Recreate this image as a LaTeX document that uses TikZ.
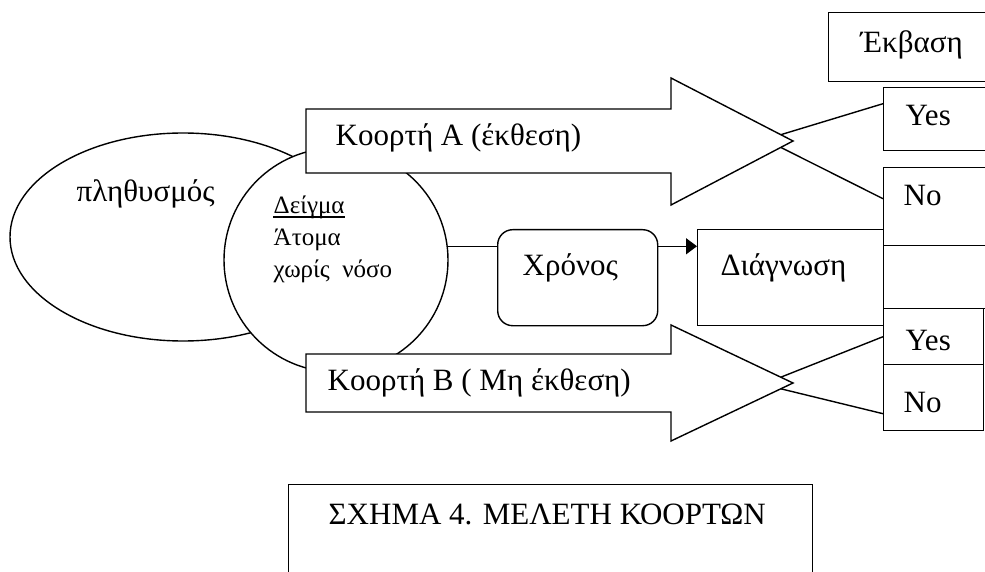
\documentclass[tikz,border=0pt]{standalone}
\usepackage{fontspec}
\setmainfont{Liberation Serif}
\usetikzlibrary{shapes.geometric,arrows.meta,calc}
\begin{document}
\begin{tikzpicture}[x=1pt,y=-1pt,
  line width=1.4pt,
  txt/.style={font=\fontsize{31}{37}\selectfont, inner sep=0pt, anchor=base west},
  smalltxt/.style={font=\fontsize{25}{30}\selectfont, inner sep=0pt, anchor=base west},
  boxnode/.style={draw, fill=white, inner sep=0pt, anchor=north west},
  blockarrow/.style={draw, fill=white, line join=miter},
  flowarrow/.style={-{Triangle[length=11pt,width=16pt]}}
]
\useasboundingbox (0,0) rectangle (985,572);
\clip (0,0) rectangle (985,572);

% population and sample
\node[draw, fill=white, ellipse, minimum width=346pt, minimum height=208pt, inner sep=0pt] (pop) at (183,237) {};
\node[txt] (poptxt) at (76,202) {πληθυσμός};
\node[draw, fill=white, circle, minimum size=224pt, inner sep=0pt] (smp) at (336,260) {};

% cohort A block arrow
\coordinate (tipA) at (793,141);
\coordinate (hAtop) at (671,78);
\coordinate (hAbot) at (671,205);
\draw[blockarrow] (306,109) -- (671,109) -- (hAtop) -- (tipA) -- (hAbot) -- (671,173) -- (306,173) -- cycle;
\node[txt] (cohA) at (335,146) {Κοορτή Α (έκθεση)};

% cohort B block arrow
\coordinate (tipB) at (793,383);
\coordinate (hBtop) at (671,325);
\coordinate (hBbot) at (671,441);
\draw[blockarrow] (306,354) -- (671,354) -- (hBtop) -- (tipB) -- (hBbot) -- (671,412) -- (306,412) -- cycle;
\node[txt] (cohB) at (327,390) {Κοορτή Β ( Μη έκθεση)};

% sample text inside the circle
\node[smalltxt] (s1) at (273,214) {Δείγμα};
\draw[line width=1.2pt] ([yshift=-3pt]s1.base west) -- ([yshift=-3pt]s1.base east);
\node[smalltxt] (s2) at (273,245) {Άτομα};
\node[smalltxt] (s3) at (273,277) {χωρίς~~νόσο};

% time and diagnosis
\node[boxnode, rounded corners=15pt, minimum width=160pt, minimum height=96pt] (time) at (497,229) {};
\node[txt] (timetxt) at (522,275) {Χρόνος};
\node[boxnode, minimum width=186pt, minimum height=96pt] (diag) at (697,229) {};
\node[txt] (diagtxt) at (720,275) {Διάγνωση};

\draw (smp.7.7) -- (smp.7.7 -| time.west);
\draw[flowarrow] (time.east |- smp.7.7) -- (diag.west |- smp.7.7);

% outcome column
\node[boxnode, minimum width=200pt, minimum height=69pt] (outc) at (828,12) {};
\node[txt] (outctxt) at (860,53) {Έκβαση};
\node[boxnode, minimum width=150pt, minimum height=63pt] (yesA) at (883,87) {};
\node[txt] (yesAtxt) at (905,126) {Yes};
\node[boxnode, minimum width=150pt, minimum height=78pt] (noA) at (883,167) {};
\node[txt] (noAtxt) at (903,206) {No};
\node[boxnode, minimum width=150pt, minimum height=63pt] (blank) at (883,245) {};
\node[boxnode, minimum width=100pt, minimum height=56pt] (yesB) at (883,308) {};
\node[txt] (yesBtxt) at (905,350) {Yes};
\node[boxnode, minimum width=100pt, minimum height=66pt] (noB) at (883,364) {};
\node[txt] (noBtxt) at (903,412) {No};

% outcome branches
\draw ($(tipA)!0.1!(hAtop)$) -- ([yshift=15.5pt]yesA.west);
\draw ($(tipA)!0.1!(hAbot)$) -- ([yshift=8pt]noA.west);
\draw ($(tipB)!0.1!(hBtop)$) -- (yesB.west);
\draw ($(tipB)!0.1!(hBbot)$) -- ([yshift=-16pt]noB.west);

% caption
\node[boxnode, minimum width=524pt, minimum height=140pt] (capbox) at (288,484) {};
\node[txt] (cap) at (328,524) {ΣΧΗΜΑ 4. ΜΕΛΕΤΗ ΚΟΟΡΤΩΝ};
\end{tikzpicture}
\end{document}
